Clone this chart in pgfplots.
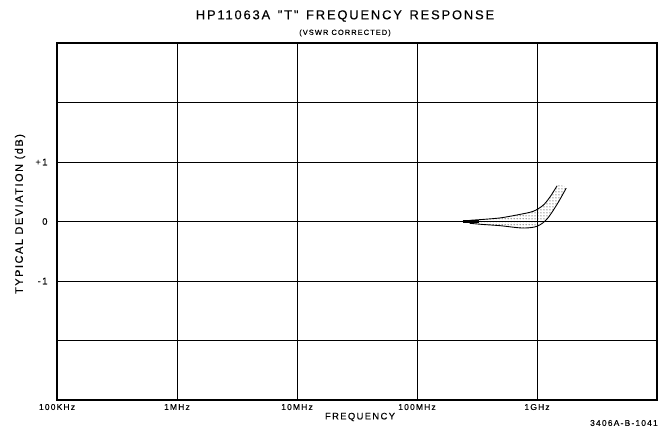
\documentclass[border=0pt]{standalone}
\usepackage{fontspec}
\setmainfont{Liberation Sans}
\newfontfamily\ls[LetterSpace=14,FakeBold=0.3]{Liberation Sans}
\usepackage{pgfplots}
\pgfplotsset{compat=1.18}
\usetikzlibrary{patterns}
\begin{document}
\begin{tikzpicture}[x=1bp,y=1bp]
\useasboundingbox (-57,-28) rectangle (602,400);
\begin{axis}[
  at={(0,0)}, anchor=south west,
  width=600bp, height=357bp, scale only axis,
  xmode=log, xmin=1e5, xmax=1e10,
  ymin=-3, ymax=3,
  xtick={1e5,1e6,1e7,1e8,1e9,1e10},
  xticklabels={100KHz,1MHz,10MHz,100MHz,1GHz,},
  ytick={-2,-1,0,1,2},
  yticklabels={,-1,0,+1,},
  xminorticks=false, yminorticks=false,
  major tick length=0pt,
  xmajorgrids, ymajorgrids,
  grid style={black, line width=0.8pt},
  axis line style={black, line width=1.4pt},
  xticklabel style={font=\ls\fontsize{8.5}{9}\selectfont, yshift=-0.5bp},
  yticklabel style={font=\ls\fontsize{9.5}{10}\selectfont, xshift=-6bp},
  clip=false,
]
% flat response
\addplot[black, line width=1.6pt] coordinates {(1e5,0) (2.4e8,0)};
\addplot[black, line width=3pt] coordinates {(2.4e8,0) (3.3e8,0)};
\addplot[black, line width=1pt] coordinates {(3.3e8,0) (1e9,0)};
% dotted band
\addplot[draw=none, pattern=dots, pattern color=black, smooth] coordinates {
 (2.75e8,0.02) (3.55e8,0.035) (4.92e8,0.06) (6.81e8,0.11) (9.26e8,0.17) (1.12e9,0.27) (1.28e9,0.41) (1.47e9,0.60)
 (1.75e9,0.56) (1.47e9,0.29) (1.21e9,0.04) (1e9,-0.08) (7.64e8,-0.11) (4.92e8,-0.07) (3.55e8,-0.05) (2.75e8,-0.03)};
% upper curve
\addplot[black, line width=0.9pt, smooth] coordinates {
 (2.75e8,0.02) (3.55e8,0.035) (4.92e8,0.06) (6.81e8,0.11) (9.26e8,0.17) (1.12e9,0.27) (1.28e9,0.41) (1.47e9,0.60)};
% lower curve
\addplot[black, line width=0.9pt, smooth] coordinates {
 (2.75e8,-0.03) (3.55e8,-0.05) (4.92e8,-0.07) (7.64e8,-0.11) (1e9,-0.08) (1.21e9,0.04) (1.47e9,0.29) (1.75e9,0.56)};
\end{axis}
\node[font=\ls\fontsize{13}{14}\selectfont] at (288,384) {HP11063A \,"T"\, FREQUENCY \,RESPONSE};
\node[font=\ls\fontsize{7.5}{8}\selectfont] at (288,367) {(VSWR CORRECTED)};
\node[font=\ls\fontsize{11}{12}\selectfont, rotate=90] at (-37,186) {TYPICAL DEVIATION (dB)};
\node[font=\ls\fontsize{9.5}{10}\selectfont] at (303,-17) {FREQUENCY};
\node[font=\ls\fontsize{8.5}{9}\selectfont, anchor=east, inner sep=0pt] at (601,-23) {3406A-B-1041};
\end{tikzpicture}
\end{document}
